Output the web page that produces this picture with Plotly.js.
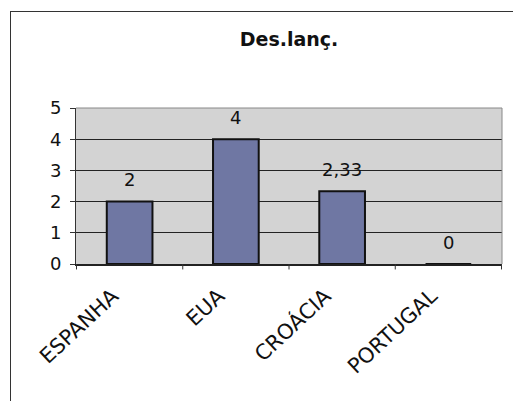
<!DOCTYPE html>
<html>
<head>
<meta charset="utf-8">
<script src="https://cdn.plot.ly/plotly-3.0.1.min.js"></script>
<style>
html,body{margin:0;padding:0;background:#fff;}
#wrap{position:absolute;left:10px;top:11px;width:503px;height:390px;border-left:1px solid #333;border-top:1px solid #333;}
#chart{width:502px;height:389px;}
</style>
</head>
<body>
<div id="wrap"><div id="chart"></div></div>
<script>
var categories = ["ESPANHA", "EUA", "CROÁCIA", "PORTUGAL"];
var values = [2, 4, 2.33, 0];
var valueLabels = ["2", "4", "2,33", "0"];
var yTicks = [0, 1, 2, 3, 4, 5];

var trace = {
  type: "bar",
  x: categories,
  y: values,
  marker: {color: "#6f77a3", line: {color: "#111", width: 2}},
  hoverinfo: "none"
};

var annotations = categories.map(function (c, i) {
  return {
    x: c, y: values[i], xref: "x", yref: "y",
    text: valueLabels[i], showarrow: false, yshift: 22,
    font: {family: "DejaVu Sans", size: 18, color: "#111"}
  };
});

var layout = {
  width: 502, height: 389,
  margin: {l: 65, r: 11, t: 96, b: 137},
  paper_bgcolor: "#fff",
  plot_bgcolor: "#d3d3d3",
  title: {text: "<b>Des.lanç.</b>", x: 0.5, xanchor: "center", y: 0.93, yanchor: "middle",
          xref: "paper",
          font: {family: "DejaVu Sans", size: 19, color: "#111"}},
  bargap: 0.57,
  showlegend: false,
  xaxis: {
    type: "category",
    tickangle: -43,
    tickfont: {family: "DejaVu Sans", size: 21, color: "#111"},
    ticklabelstandoff: 10,
    ticklabelshift: -17,
    showline: true, linecolor: "#222", linewidth: 1.5,
    showgrid: false,
    ticks: "", mirror: false,
    zeroline: false
  },
  yaxis: {
    range: [0, 5],
    tickvals: yTicks,
    ticktext: yTicks.map(String),
    tickfont: {family: "DejaVu Sans", size: 18, color: "#111"},
    ticklabelstandoff: 5,
    showline: true, linecolor: "#333", linewidth: 1,
    showgrid: true, gridcolor: "#222", gridwidth: 1,
    ticks: "outside", ticklen: 5, tickcolor: "#333",
    zeroline: false, fixedrange: true
  },
  annotations: annotations,
  shapes: [
    {type: "line", xref: "paper", yref: "paper", x0: 0, x1: 1, y0: 1, y1: 1, line: {color: "#888", width: 1}},
    {type: "line", xref: "paper", yref: "paper", x0: 1, x1: 1, y0: 0, y1: 1, line: {color: "#888", width: 1}}
  ].concat([0, 1, 2, 3, 4].map(function (k) {
    return {type: "line", xref: "x", yref: "paper", x0: k - 0.5, x1: k - 0.5, y0: 0, y1: -0.035,
            line: {color: "#333", width: 1}};
  }))
};

Plotly.newPlot("chart", [trace], layout, {displayModeBar: false, staticPlot: true});
</script>
</body>
</html>
